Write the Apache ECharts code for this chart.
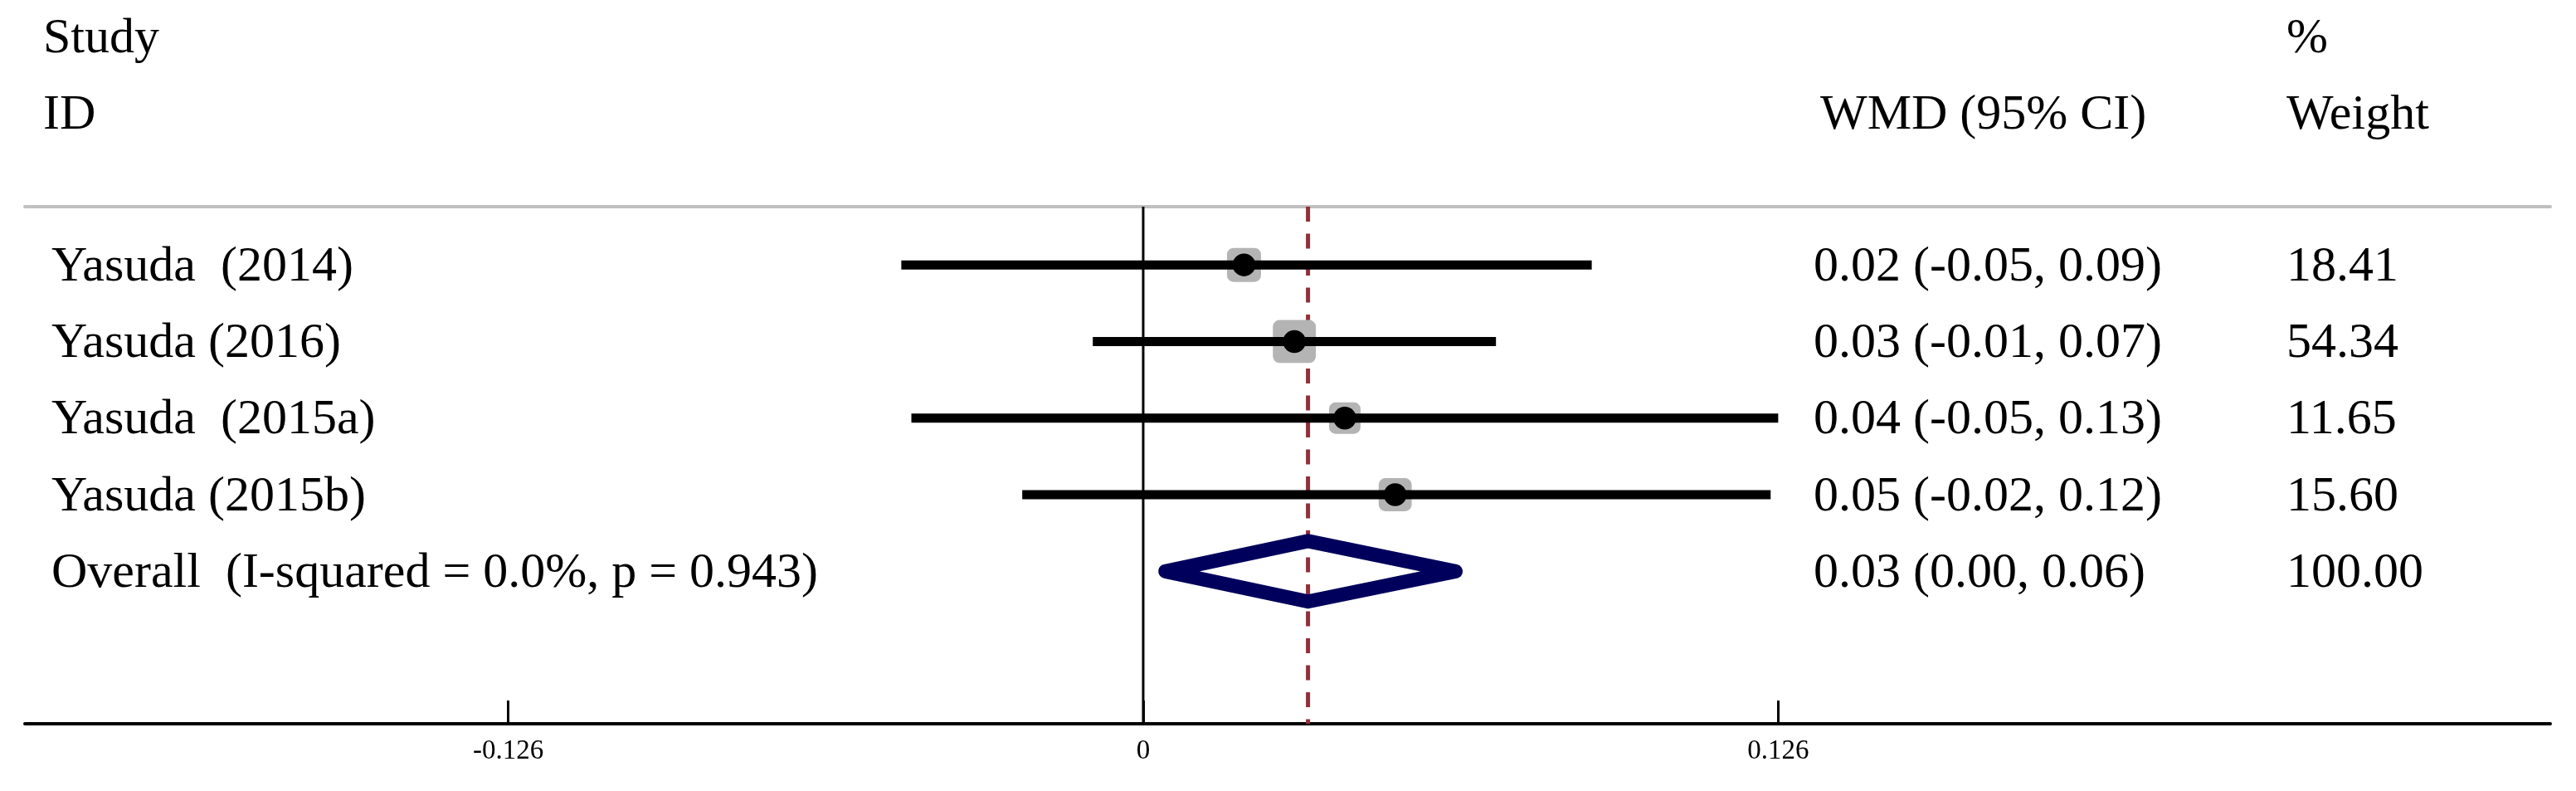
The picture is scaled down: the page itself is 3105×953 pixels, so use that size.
<!DOCTYPE html>
<html>
<head>
<meta charset="utf-8">
<script src="https://cdn.jsdelivr.net/npm/echarts@6/dist/echarts.min.js"></script>
<style>
html, body { margin: 0; padding: 0; background: #fff; }
#main { width: 3105px; height: 953px; }
</style>
</head>
<body>
<div id="main"></div>
<script>
// study rows
var studies = ['Yasuda  (2014)', 'Yasuda (2016)', 'Yasuda  (2015a)', 'Yasuda (2015b)'];
var wmd = [0.020, 0.030, 0.040, 0.050];
var ciLower = [-0.048, -0.010, -0.046, -0.024];
var ciUpper = [0.089, 0.070, 0.130, 0.1245];
var weights = [18.41, 54.34, 11.65, 15.60];
var ciText = ['0.02 (-0.05, 0.09)', '0.03 (-0.01, 0.07)', '0.04 (-0.05, 0.13)', '0.05 (-0.02, 0.12)'];
var weightText = ['18.41', '54.34', '11.65', '15.60'];

// pooled estimate
var overallLabel = 'Overall  (I-squared = 0.0%, p = 0.943)';
var overallWmd = 0.0327;
var overallLower = 0.0044;
var overallUpper = 0.062;
var overallCiText = '0.03 (0.00, 0.06)';
var overallWeightText = '100.00';

// header lines
var headLeft = ['Study', 'ID'];
var headCi = ['', 'WMD (95% CI)'];
var headWeight = ['%', 'Weight'];

// axis
var tickValues = [-0.126, 0, 0.126];
var tickLabels = ['-0.126', '0', '0.126'];
var xRange = [-0.2219, 0.2792];

var FONT = '"Liberation Serif", "Times New Roman", serif';
var colLeft = 62, colLeftHead = 52, colCi = 2186, colCiHead = 2194, colW = 2756;

// rows of the text table: two header lines, the studies, the overall line
var tableRows = [];
headLeft.forEach(function (t, i) {
    tableRows.push({ row: i - 3, left: t, ci: headCi[i], w: headWeight[i], head: true });
});
studies.forEach(function (s, i) {
    tableRows.push({ row: i, left: s, ci: ciText[i], w: weightText[i] });
});
tableRows.push({ row: studies.length, left: overallLabel, ci: overallCiText, w: overallWeightText });

function txt(x, y, s) {
    return {
        type: 'text', x: x, y: y,
        style: { text: s, fontSize: 60, fontFamily: FONT, fill: '#000', align: 'left', verticalAlign: 'middle' }
    };
}

var myChart = echarts.init(document.getElementById('main'));
var option = {
    animation: false,
    backgroundColor: '#fff',
    grid: { left: 30, right: 31, top: 249, bottom: 81 },
    xAxis: [{
        type: 'value', position: 'bottom',
        min: xRange[0], max: xRange[1],
        axisLine: { onZero: false, lineStyle: { color: '#000', width: 4 } },
        axisTick: { inside: true, length: 28, customValues: tickValues, lineStyle: { color: '#000', width: 3 } },
        axisLabel: {
            customValues: tickValues, margin: 17, color: '#000', fontSize: 33, fontFamily: FONT,
            formatter: function (v) { return tickLabels[tickValues.indexOf(v)]; }
        },
        splitLine: { show: false }
    }, {
        type: 'value', position: 'top',
        min: xRange[0], max: xRange[1],
        axisLine: { onZero: false, lineStyle: { color: '#c0c0c0', width: 4 } },
        axisTick: { show: false }, axisLabel: { show: false }, splitLine: { show: false }
    }],
    yAxis: { type: 'value', min: -0.76, max: 5.99, inverse: true, show: false },
    series: [
        {
            // table text
            type: 'custom', z: 1,
            data: tableRows.map(function (r) { return [0, r.row]; }),
            renderItem: function (params, api) {
                var r = tableRows[params.dataIndex];
                var y = api.coord([0, r.row])[1] + (r.head ? 5 : 3);
                var kids = [txt(r.head ? colLeftHead : colLeft, y, r.left), txt(colW, y, r.w)];
                if (r.ci) kids.push(txt(r.head ? colCiHead : colCi, y, r.ci));
                return { type: 'group', children: kids };
            }
        },
        {
            // null line (solid) and pooled estimate line (dashed)
            type: 'custom', z: 1,
            data: [[0, 0], [overallWmd, 1]],
            renderItem: function (params, api) {
                var cs = params.coordSys;
                var x = api.coord([api.value(0), 0])[0];
                var dashed = api.value(1) === 1;
                return {
                    type: 'line',
                    shape: { x1: x, y1: cs.y, x2: x, y2: cs.y + cs.height },
                    style: dashed
                        ? { stroke: '#90303a', lineWidth: 5, lineDash: [18, 14.5] }
                        : { stroke: '#000', lineWidth: 3 }
                };
            }
        },
        {
            // study estimates: weight box, CI line, point
            type: 'custom', z: 2,
            data: studies.map(function (s, i) { return [i, wmd[i], ciLower[i], ciUpper[i], weights[i]]; }),
            renderItem: function (params, api) {
                var row = api.value(0);
                var p = api.coord([api.value(1), row]);
                var lo = api.coord([Math.max(api.value(2), tickValues[0]), row]);
                var hi = api.coord([Math.min(api.value(3), tickValues[2]), row]);
                var side = 26 + 3.5 * Math.sqrt(api.value(4));
                return {
                    type: 'group', children: [
                        { type: 'rect', shape: { x: p[0] - side / 2, y: p[1] - side / 2, width: side, height: side, r: 8 }, style: { fill: '#b4b4b4' } },
                        { type: 'line', shape: { x1: lo[0], y1: lo[1], x2: hi[0], y2: hi[1] }, style: { stroke: '#000', lineWidth: 11 } },
                        { type: 'circle', shape: { cx: p[0], cy: p[1], r: 13.75 }, style: { fill: '#000' } }
                    ]
                };
            }
        },
        {
            // overall diamond
            type: 'custom', z: 3,
            data: [[studies.length, overallWmd, overallLower, overallUpper]],
            renderItem: function (params, api) {
                var row = api.value(0), h = 0.395;
                var pts = [
                    api.coord([api.value(2), row]),
                    api.coord([api.value(1), row - h]),
                    api.coord([api.value(3), row]),
                    api.coord([api.value(1), row + h])
                ];
                return {
                    type: 'polygon', shape: { points: pts },
                    style: { fill: 'none', stroke: '#00005c', lineWidth: 17, lineJoin: 'round' }
                };
            }
        }
    ]
};
myChart.setOption(option);
</script>
</body>
</html>
